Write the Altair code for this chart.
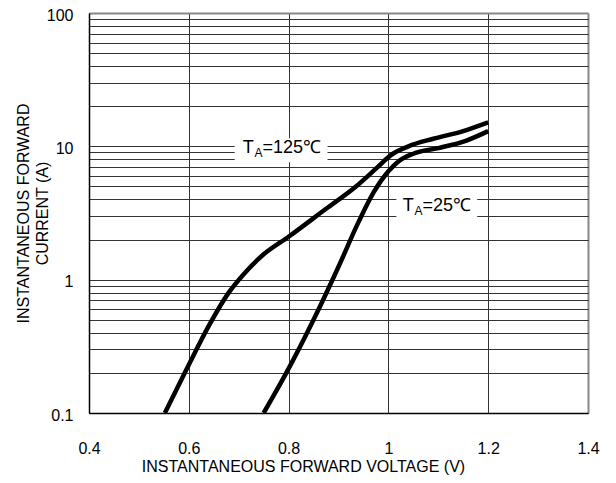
import altair as alt
import pandas as pd

FONT = "Liberation Sans"

# 125 C curve
v125 = [0.552, 0.600, 0.640, 0.680, 0.710, 0.750, 0.800, 0.875, 0.935, 0.975, 1.005, 1.040, 1.090, 1.150, 1.200]
i125 = [0.10, 0.23, 0.45, 0.80, 1.10, 1.55, 2.10, 3.40, 5.00, 6.80, 8.60, 10.0, 11.4, 13.0, 15.1]
# 25 C curve
v25 = [0.750, 0.800, 0.850, 0.900, 0.940, 0.970, 1.000, 1.020, 1.050, 1.100, 1.155, 1.200]
i25 = [0.10, 0.215, 0.50, 1.25, 2.70, 4.50, 6.50, 7.70, 8.80, 9.70, 11.0, 13.0]

x_ticks = [0.4, 0.6, 0.8, 1.0, 1.2, 1.4]
y_grid = [round(m * 10.0 ** e, 3) for e in (-1, 0, 1) for m in range(1, 10)] + [100]

# annotation labels
lab_v = [0.708, 1.0286]
lab_i = [9.68, 3.59]
sub_v = [0.7315, 1.0521]
rest_v = [0.7475, 1.0681]
rest_txt = ["=125℃", "=25℃"]
box_v1 = [0.692, 1.016]
box_v2 = [0.878, 1.178]
box_i1 = [7.6, 2.8]
box_i2 = [11.5, 4.54]

curves = pd.DataFrame({
    "V": v125 + v25,
    "I": i125 + i25,
    "T": ["125"] * len(v125) + ["25"] * len(v25),
})
labels_main = pd.DataFrame({"V": lab_v, "I": lab_i, "t": ["T", "T"]})
labels_sub = pd.DataFrame({"V": sub_v, "I": lab_i, "t": ["A", "A"]})
labels_rest = pd.DataFrame({"V": rest_v, "I": lab_i, "t": rest_txt})
boxes = pd.DataFrame({"V": box_v1, "V2": box_v2, "I": box_i1, "I2": box_i2})

xs = alt.Scale(domain=[0.4, 1.4], nice=False, zero=False)
ys = alt.Scale(type="log", domain=[0.1, 100], nice=False)

XT = "INSTANTANEOUS FORWARD VOLTAGE (V)"
YT = ["INSTANTANEOUS FORWARD", "CURRENT (A)"]

xaxis = alt.Axis(
    values=x_ticks, format="~g", ticks=False, grid=True,
    gridColor=alt.condition("datum.value > 1.39", alt.value("#888888"), alt.value("#333333")),
    gridWidth=alt.condition("datum.value > 1.39", alt.value(2), alt.value(1)),
    domainColor="#000000", domainWidth=1.5,
    labelFont=FONT, labelFontSize=16, labelColor="#000000", labelPadding=27,
    labelFlush=False, labelOverlap=False,
    title=XT, titleFont=FONT, titleFontSize=16, titleFontWeight="normal", titleColor="#000000",
    titleX=214, titleY=58, titleAlign="center", titleBaseline="alphabetic",
)
yaxis = alt.Axis(
    values=y_grid, ticks=False, grid=True,
    gridColor=alt.condition("datum.value > 99", alt.value("#888888"), alt.value("#333333")),
    gridWidth=alt.condition("datum.value > 99", alt.value(2), alt.value(1)),
    labelExpr="indexof(['0.1','1','10','100'], format(datum.value, '~g')) >= 0 ? format(datum.value, '~g') : ''",
    domainColor="#000000", domainWidth=1.5,
    labelFont=FONT, labelFontSize=16, labelColor="#000000", labelPadding=16, labelOverlap=False,
    labelOffset=2,
    title=YT, titleFont=FONT, titleFontSize=16, titleFontWeight="normal", titleColor="#000000",
    titleAngle=270, titleX=-61, titleY=200, titleAlign="center", titleBaseline="alphabetic",
    titleLineHeight=19,
)


def X(f):
    return alt.X(f, type="quantitative", scale=xs, axis=xaxis, title=XT)


def Y(f):
    return alt.Y(f, type="quantitative", scale=ys, axis=yaxis, title=YT)


lines = alt.Chart(curves).mark_line(
    strokeWidth=4.5, interpolate="monotone", color="#000000", clip=True
).encode(x=X("V"), y=Y("I"), detail="T:N", order=alt.Order("V:Q"))

rects = alt.Chart(boxes).mark_rect(color="#ffffff", opacity=1).encode(
    x=X("V"), x2="V2", y=Y("I"), y2="I2"
)

t_main = alt.Chart(labels_main).mark_text(
    font=FONT, fontSize=18, align="left", baseline="middle", color="#000000"
).encode(x=X("V"), y=Y("I"), text="t")
t_sub = alt.Chart(labels_sub).mark_text(
    font=FONT, fontSize=12, align="left", baseline="middle", color="#000000", dy=5
).encode(x=X("V"), y=Y("I"), text="t")
t_rest = alt.Chart(labels_rest).mark_text(
    font=FONT, fontSize=18, align="left", baseline="middle", color="#000000"
).encode(x=X("V"), y=Y("I"), text="t")

chart = alt.layer(lines, rects, t_main, t_sub, t_rest).properties(
    width=499, height=400,
    padding={"left": 81, "top": 5, "right": 20, "bottom": 62},
    autosize=alt.AutoSizeParams(type="none"),
    background="#ffffff",
).configure_view(stroke="#888888", strokeWidth=2).configure(font=FONT)

chart.save("out.html", embed_options={"renderer": "svg", "actions": False})
